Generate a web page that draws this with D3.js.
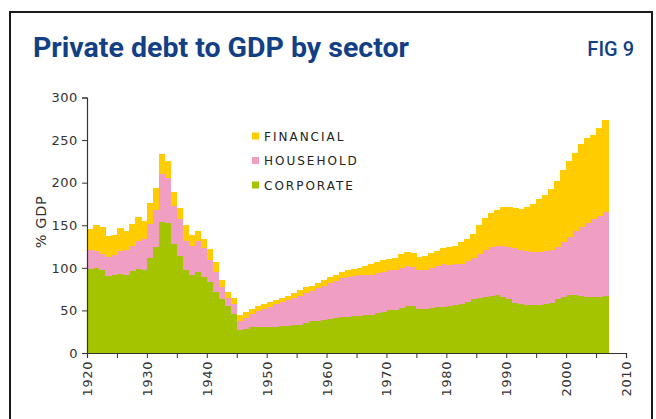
<!DOCTYPE html>
<html>
<head>
<meta charset="utf-8">
<script src="https://cdn.jsdelivr.net/npm/d3@7"></script>
<style>
  html, body { margin: 0; padding: 0; background: #ffffff; }
  svg { display: block; }
</style>
</head>
<body>
<svg id="chart" width="656" height="419"></svg>
<script>
// Private debt to GDP, US, by sector (% of GDP), one value per year 1920-2006
const startYear = 1920;
const endYear = 2006;

const corporate = [
  99, 100, 97, 90, 92, 93, 92, 96, 99, 97,
  111, 124, 154, 153, 128, 114, 97, 92, 95, 89,
  83, 72, 63, 55, 46, 27, 28, 30, 31, 31,
  31, 31, 32, 32, 33, 33, 35, 37, 38, 39,
  40, 41, 42, 42, 43, 44, 45, 45, 47, 48,
  50, 51, 53, 55, 55, 52, 52, 53, 54, 54,
  55, 56, 58, 60, 63, 65, 66, 67, 68, 66,
  63, 59, 57, 56, 56, 56, 57, 59, 63, 66,
  68, 68, 67, 66, 66, 66, 67
];

const household = [
  22, 20, 19, 23, 23, 27, 29, 30, 33, 37,
  41, 44, 56, 52, 45, 43, 35, 34, 36, 34,
  26, 23, 15, 10, 11, 10, 13, 16, 18, 21,
  23, 26, 28, 30, 32, 34, 35, 36, 38, 40,
  42, 44, 46, 47, 47, 47, 46, 47, 47, 47,
  47, 47, 47, 47, 46, 46, 46, 47, 48, 50,
  48, 48, 47, 48, 49, 51, 55, 57, 58, 60,
  62, 64, 64, 64, 63, 63, 63, 62, 62, 64,
  68, 75, 81, 87, 91, 95, 99
];

const financial = [
  25, 30, 32, 24, 24, 27, 22, 26, 28, 21,
  24, 26, 24, 21, 16, 13, 18, 12, 12, 11,
  13, 12, 8, 7, 8, 8, 7, 6, 6, 6,
  6, 5, 5, 5, 6, 7, 7, 6, 6, 7,
  7, 7, 7, 8, 9, 9, 11, 12, 13, 14,
  13, 14, 16, 17, 17, 15, 16, 17, 18, 19,
  21, 22, 25, 26, 28, 34, 37, 40, 42, 45,
  46, 47, 48, 51, 56, 62, 66, 71, 77, 85,
  90, 92, 97, 99, 99, 103, 107
];

const seriesKeys = ["corporate", "household", "financial"];
const seriesLabels = { financial: "FINANCIAL", household: "HOUSEHOLD", corporate: "CORPORATE" };
const legendOrder = ["financial", "household", "corporate"];
const colors = { corporate: "#a4c400", household: "#f09ec2", financial: "#ffcc00" };

const yTicks = [0, 50, 100, 150, 200, 250, 300];
const xMinorTicks = d3.range(1920, 2011, 5);
const xLabelTicks = d3.range(1920, 2011, 10);

const years = d3.range(startYear, endYear + 1);
const rows = years.map((year, i) => ({
  year,
  corporate: corporate[i],
  household: household[i],
  financial: financial[i]
}));

const svg = d3.select("#chart");

// frame around the figure
svg.append("path")
  .attr("d", "M10,420 L10,12 L652,12 L652,420")
  .attr("fill", "none")
  .attr("stroke", "#1a1a1a")
  .attr("stroke-width", 2);

// heading
svg.append("text")
  .attr("x", 33)
  .attr("y", 57)
  .attr("font-family", "Roboto, 'Open Sans', sans-serif")
  .attr("font-weight", 700)
  .attr("font-size", 28.5)
  .attr("fill", "#133f86")
  .text("Private debt to GDP by sector");

svg.append("text")
  .attr("x", 634)
  .attr("y", 56)
  .attr("text-anchor", "end")
  .attr("font-family", "Roboto, 'Open Sans', sans-serif")
  .attr("font-weight", 500)
  .attr("font-size", 20)
  .attr("fill", "#133f86")
  .text("FIG 9");

// scales
const x = d3.scaleLinear().domain([1920, 2010]).range([87, 626]);
const y = d3.scaleLinear().domain([0, 300]).range([353, 97.5]);

// stacked annual bars
const stacked = d3.stack().keys(seriesKeys)(rows);

const layers = svg.append("g").attr("shape-rendering", "crispEdges");
stacked.forEach(layer => {
  layers.append("g")
    .attr("fill", colors[layer.key])
    .selectAll("rect")
    .data(layer)
    .join("rect")
      .attr("x", d => x(d.data.year))
      .attr("width", d => x(d.data.year + 1) - x(d.data.year) + 0.6)
      .attr("y", d => y(d[1]))
      .attr("height", d => y(d[0]) - y(d[1]));
});

// axes
const axisFont = "'DejaVu Sans', Verdana, sans-serif";

const yAxis = svg.append("g")
  .attr("transform", `translate(${x(1920)},0)`)
  .call(d3.axisLeft(y).tickValues(yTicks).tickSize(5).tickPadding(4).tickFormat(d3.format("d")));

const xAxis = svg.append("g")
  .attr("transform", `translate(0,${y(0)})`)
  .call(d3.axisBottom(x).tickValues(xMinorTicks).tickSize(5).tickFormat(""));

svg.append("g")
  .attr("transform", `translate(0,${y(0)})`)
  .selectAll("text")
  .data(xLabelTicks)
  .join("text")
    .attr("transform", d => `translate(${x(d) + 5},8) rotate(-90)`)
    .attr("text-anchor", "end")
    .attr("font-family", axisFont)
    .attr("font-size", 13)
    .attr("letter-spacing", 0.6)
    .attr("fill", "#333")
    .text(d => d);

[yAxis, xAxis].forEach(g => {
  g.select(".domain").attr("stroke", "#333").attr("stroke-width", 1.2);
  g.selectAll(".tick line").attr("stroke", "#333");
  g.selectAll(".tick text")
    .attr("font-family", axisFont)
    .attr("font-size", 13)
    .attr("letter-spacing", 0.6)
    .attr("fill", "#333");
});

// y axis title
svg.append("text")
  .attr("transform", `translate(46,222) rotate(-90)`)
  .attr("text-anchor", "middle")
  .attr("font-family", axisFont)
  .attr("font-size", 14.5)
  .attr("letter-spacing", 0.6)
  .attr("fill", "#333")
  .text("% GDP");

// legend
const legend = svg.append("g").attr("transform", "translate(252,136)");
legendOrder.forEach((key, i) => {
  const row = legend.append("g").attr("transform", `translate(0,${i * 24.5})`);
  row.append("rect")
    .attr("x", 0).attr("y", -3.5)
    .attr("width", 7).attr("height", 7)
    .attr("fill", colors[key]);
  row.append("text")
    .attr("x", 12)
    .attr("y", 4.5)
    .attr("font-family", axisFont)
    .attr("font-size", 12)
    .attr("letter-spacing", 2)
    .attr("fill", "#222")
    .text(seriesLabels[key]);
});
</script>
</body>
</html>
